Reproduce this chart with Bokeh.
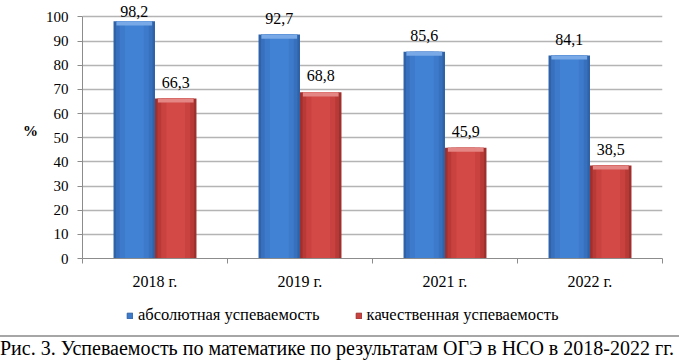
import numpy as np
from bokeh.plotting import figure
from bokeh.models import (ColumnDataSource, FixedTicker, Legend, LegendItem,
                          LabelSet, Div)
from bokeh.layouts import column
from bokeh.embed import file_html
from bokeh.resources import INLINE
from bokeh.core.properties import value

# ---------------- data ----------------
years = ["2018 г.", "2019 г.", "2021 г.", "2022 г."]
absolute = [98.2, 92.7, 85.6, 84.1]
quality = [66.3, 68.8, 45.9, 38.5]
abs_labels = ["98,2", "92,7", "85,6", "84,1"]
qual_labels = ["66,3", "68,8", "45,9", "38,5"]
y_ticks = [0, 10, 20, 30, 40, 50, 60, 70, 80, 90, 100]
series_names = ["абсолютная успеваемость", "качественная успеваемость"]
caption = "Рис. 3. Успеваемость по математике по результатам ОГЭ в НСО в 2018-2022 гг."

FONT = "Liberation Serif"
W = 679
H_CHART = 292
H_LEG = 43

blue_shades = ["#2f62a6", "#3770bd", "#3d7acb", "#4282d5"]
red_shades = ["#9e302e", "#b83a37", "#c94240", "#d24946"]

idx = np.arange(len(years))
centers = idx + 0.5
bw = 0.286
off = bw / 2

p = figure(width=W, height=H_CHART, x_range=(0, len(years)), y_range=(0, 106),
           output_backend="svg", toolbar_location=None,
           min_border_left=82, min_border_right=17, min_border_top=2,
           min_border_bottom=33)
p.outline_line_color = None
p.background_fill_color = "white"
p.border_fill_color = "white"

# gridlines
p.xgrid.visible = False
p.ygrid.ticker = FixedTicker(ticks=y_ticks)
p.ygrid.grid_line_color = "#b4b4b4"
p.ygrid.grid_line_width = 1.5

# bars with a simple bevel/gradient look
def draw_bars(xs, vals, shades, bevel_col):
    vals = np.array(vals, dtype=float)
    src = ColumnDataSource(dict(x=xs, top=vals, bevel=vals - 1.7))
    for frac, col in zip([1.0, 0.88, 0.7, 0.45], shades):
        p.vbar(x="x", top="top", bottom=0, width=bw * frac, source=src,
               fill_color=col, line_color=None)
    p.vbar(x="x", top="top", bottom="bevel", width=bw * 0.86, source=src,
           fill_color=bevel_col, line_color=None)
    return src

src_b = draw_bars(centers - off, absolute, blue_shades, "#79a9e6")
src_r = draw_bars(centers + off, quality, red_shades, "#e48683")

# value labels (clamped to chart top as in the original)
def add_labels(xs, vals, texts):
    ly = np.minimum(np.array(vals, dtype=float) + 4.5, 100.0)
    src = ColumnDataSource(dict(x=xs, y=ly, t=texts))
    p.add_layout(LabelSet(x="x", y="y", text="t", source=src,
                          text_align="center", text_baseline="alphabetic",
                          text_font=value(FONT), text_font_size=value("16px"),
                          text_color="black"))

add_labels(centers - off, absolute, abs_labels)
add_labels(centers + off, quality, qual_labels)

# axes
axis_col = "#8c8c8c"
yax = p.yaxis[0]
yax.ticker = FixedTicker(ticks=y_ticks)
yax.bounds = (0, 100)
yax.axis_line_color = axis_col
yax.major_tick_line_color = axis_col
yax.major_tick_out = 5
yax.major_tick_in = 0
yax.minor_tick_line_color = None
yax.major_label_text_font = FONT
yax.major_label_text_font_size = "15px"
yax.major_label_text_color = "black"
yax.major_label_standoff = 9
yax.axis_label = "%"
yax.axis_label_text_font = FONT
yax.axis_label_text_font_size = "15px"
yax.axis_label_text_font_style = "bold"
yax.axis_label_text_color = "black"
yax.axis_label_standoff = 5
try:
    yax.axis_label_orientation = "horizontal"
except Exception:
    pass

xax = p.xaxis[0]
xax.ticker = FixedTicker(ticks=list(centers), minor_ticks=list(range(len(years) + 1)))
xax.major_label_overrides = {float(c): y for c, y in zip(centers, years)}
xax.axis_line_color = axis_col
xax.major_tick_line_color = None
xax.major_tick_out = 5
xax.major_tick_in = 0
xax.minor_tick_line_color = axis_col
xax.minor_tick_out = 5
xax.minor_tick_in = 0
xax.major_label_text_font = FONT
xax.major_label_text_font_size = "16px"
xax.major_label_text_color = "black"
xax.major_label_standoff = 9

# legend strip: a separate figure (so the legend is not clipped by the chart
# frame); its proxy bars use the same data but lie far outside its visible range
lf = figure(width=W, height=H_LEG, x_range=(100, 101), y_range=(1000, 1001),
            output_backend="svg", toolbar_location=None,
            x_axis_location=None, y_axis_location=None,
            min_border=0, outline_line_color=None)
lf.grid.visible = False
lb = lf.vbar(x="x", top="top", width=bw, source=src_b,
             fill_color=blue_shades[2], line_color=blue_shades[0])
lr = lf.vbar(x="x", top="top", width=bw, source=src_r,
             fill_color=red_shades[2], line_color=red_shades[0])
legend = Legend(items=[LegendItem(label=series_names[0], renderers=[lb]),
                       LegendItem(label=series_names[1], renderers=[lr])],
                orientation="horizontal", location=(44, 10),
                glyph_width=7, glyph_height=7, label_standoff=5,
                spacing=35, padding=0, margin=0, label_height=17,
                border_line_color=None, background_fill_alpha=0,
                label_text_font=FONT, label_text_font_size="16.5px",
                label_text_color="black", label_text_baseline="middle")
lf.add_layout(legend, "center")

div = Div(text=(f'<div style="font-family: \'{FONT}\', serif; font-size: 20px; '
                f'line-height: 22px; color: black; white-space: nowrap;">{caption}</div>'),
          width=W, margin=(0, 0, 0, 0),
          styles={"border-top": "2px solid #a6a6a6"})

layout = column(p, lf, div, spacing=0)
open("out.html", "w").write(file_html(layout, INLINE))
